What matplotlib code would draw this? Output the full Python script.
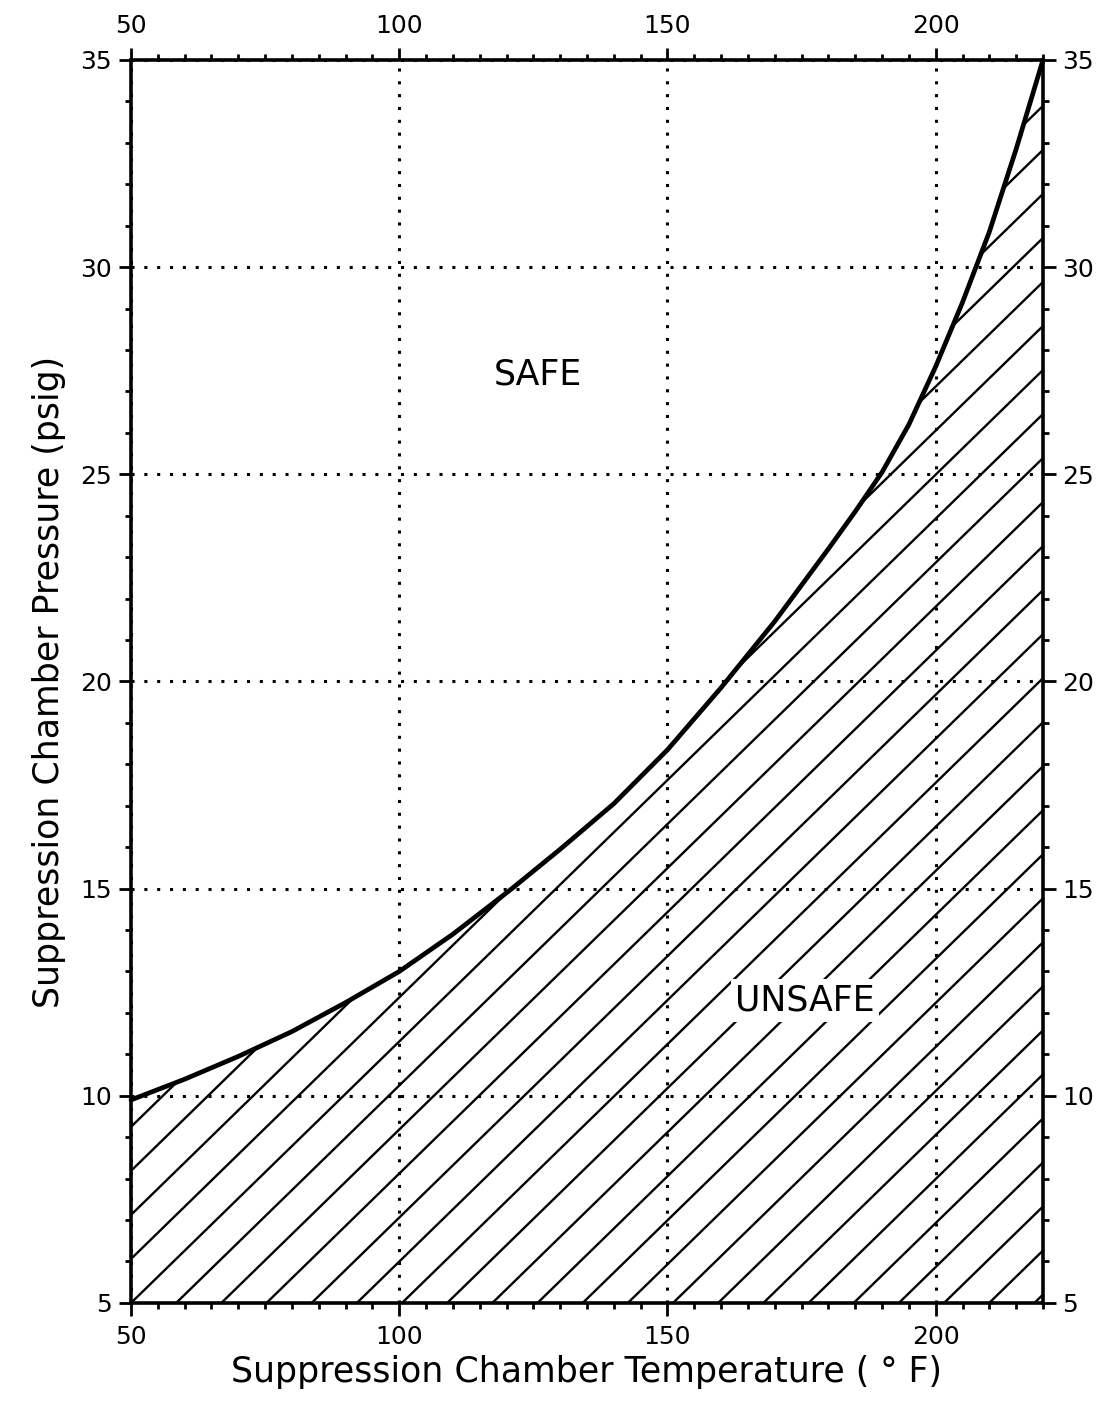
import numpy as np
import matplotlib
matplotlib.use("Agg")
import matplotlib.pyplot as plt
from matplotlib.collections import LineCollection
from matplotlib.patches import Polygon
from matplotlib.ticker import MultipleLocator, FixedLocator

# ---- data ----
temp_f = [50, 60, 70, 80, 90, 100, 110, 121, 130, 140, 150, 160, 170, 180,
          185, 190, 195, 200, 205, 210, 215, 220]
pressure_psig = [9.9, 10.4, 10.95, 11.55, 12.25, 13.0, 13.9, 15.0, 15.95, 17.05, 18.35,
                 19.85, 21.45, 23.2, 24.1, 25.05, 26.2, 27.6, 29.15, 30.85, 32.85, 35.0]
x_ticks = [50, 100, 150, 200]
y_ticks = [5, 10, 15, 20, 25, 30, 35]
x_lim = (50, 220)
y_lim = (5, 35)
region_labels = ["SAFE", "UNSAFE"]
x_label = "Suppression Chamber Temperature ( ° F)"
y_label = "Suppression Chamber Pressure (psig)"

# hatch geometry (decorative)
hatch_step_f = 8.42      # spacing of hatch lines along the temperature axis
hatch_slope = 0.1262     # psi per degF

fig = plt.figure(figsize=(11.01, 14.01), dpi=100)
ax = fig.add_axes([0.119, 0.0700, 0.8283, 0.8872])
ax.set_xlim(*x_lim)
ax.set_ylim(*y_lim)

# dotted grid
ax.xaxis.set_major_locator(FixedLocator(x_ticks))
ax.yaxis.set_major_locator(FixedLocator(y_ticks))
ax.xaxis.set_minor_locator(MultipleLocator(5))
ax.yaxis.set_minor_locator(MultipleLocator(1))
ax.grid(True, which="major", color="black", linewidth=2.2, linestyle=(0, (1, 3.2)))

# unsafe region polygon
verts = list(zip(temp_f, pressure_psig)) + [(x_lim[1], y_lim[0]), (x_lim[0], y_lim[0])]
region = Polygon(verts, closed=True, facecolor="none", edgecolor="none")
ax.add_patch(region)

segs = []
span = (y_lim[1] - y_lim[0]) / hatch_slope
n_min = int(np.floor(-span / hatch_step_f)) - 1
n_max = int(np.ceil((x_lim[1] - x_lim[0]) / hatch_step_f)) + 1
for n in range(n_min, n_max + 1):
    t0 = x_lim[0] + n * hatch_step_f
    segs.append([(t0, y_lim[0]), (t0 + span, y_lim[1])])
lc = LineCollection(segs, colors="black", linewidths=1.7, zorder=2)
ax.add_collection(lc)
lc.set_clip_path(region)

# boundary curve
ax.plot(temp_f, pressure_psig, color="black", linewidth=3.4, zorder=4,
        solid_capstyle="round", solid_joinstyle="round", clip_on=False)

# region labels
ax.text(125.9, 27.4, region_labels[0], fontsize=25, ha="center", va="center", zorder=5)
ax.text(175.6, 12.3, region_labels[1], fontsize=25, ha="center", va="center", zorder=5,
        bbox=dict(facecolor="white", edgecolor="none", pad=3))

# axes styling
for s in ax.spines.values():
    s.set_linewidth(2.6)
    s.set_zorder(6)

ax.tick_params(which="both", direction="out", top=True, right=True,
               labeltop=True, labelright=True, width=2.0, colors="black")
ax.tick_params(which="major", length=9, labelsize=18)
ax.tick_params(which="minor", length=4.5)
ax.tick_params(axis="x", which="major", pad=7)
ax.tick_params(axis="y", which="major", pad=5)

ax.set_xlabel(x_label, fontsize=25, labelpad=4)
ax.set_ylabel(y_label, fontsize=25, labelpad=10)

fig.savefig("out.png", dpi=100, facecolor="white")
